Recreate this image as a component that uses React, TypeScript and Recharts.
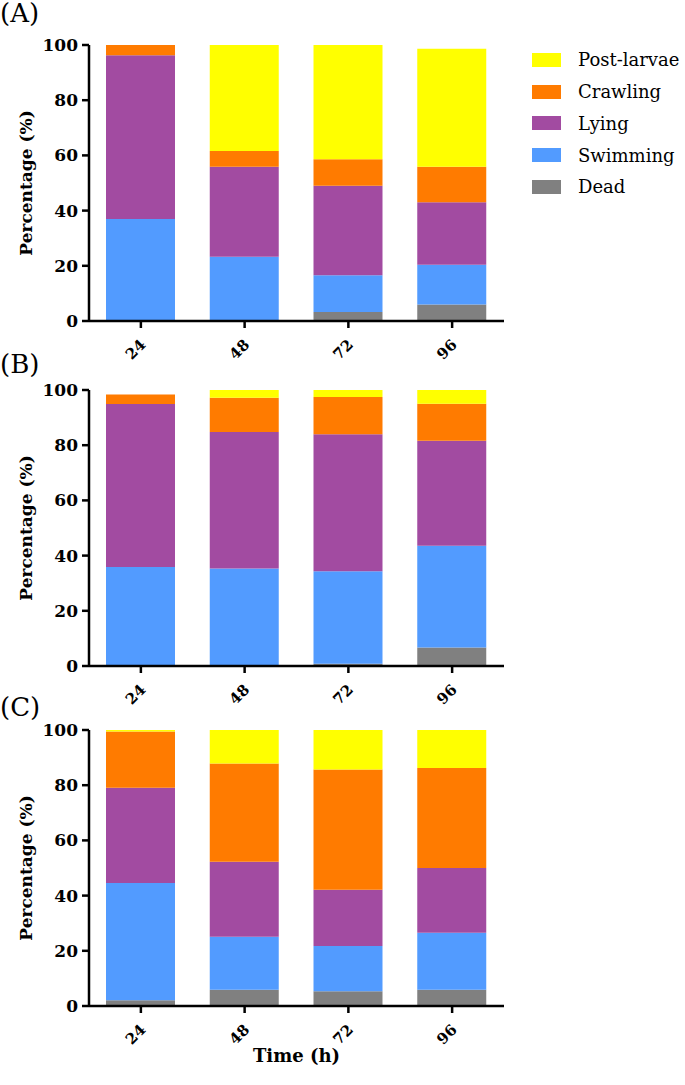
import React from "react";
import { BarChart, Bar, XAxis, YAxis } from "recharts";

// time points (h)
const hours = ["24", "48", "72", "96"];
const yTicks = [0, 20, 40, 60, 80, 100];

// Panel A
const deadA = [0, 0, 3.3, 6.0];
const swimA = [37, 23.3, 13.3, 14.4];
const lyingA = [59.3, 32.6, 32.4, 22.6];
const crawlA = [3.7, 5.7, 9.6, 12.9];
const postA = [0, 38.4, 41.4, 42.7];

// Panel B
const deadB = [0, 0, 0.8, 6.7];
const swimB = [35.9, 35.3, 33.5, 36.9];
const lyingB = [59, 49.5, 49.7, 38.0];
const crawlB = [3.5, 12.4, 13.5, 13.4];
const postB = [0, 2.8, 2.5, 5.0];

// Panel C
const deadC = [2.1, 5.9, 5.3, 5.9];
const swimC = [42.5, 19.2, 16.4, 20.6];
const lyingC = [34.5, 27.2, 20.4, 23.5];
const crawlC = [20.4, 35.6, 43.6, 36.2];
const postC = [0.5, 12.1, 14.3, 13.8];

const SERIES = [
  { key: "dead", name: "Dead", color: "#808080" },
  { key: "swim", name: "Swimming", color: "#529BFF" },
  { key: "lying", name: "Lying", color: "#A24BA1" },
  { key: "crawl", name: "Crawling", color: "#FF7B00" },
  { key: "post", name: "Post-larvae", color: "#FFFF00" },
];

const FONT = "DejaVu Serif";

const build = (
  dead: number[],
  swim: number[],
  lying: number[],
  crawl: number[],
  post: number[]
) =>
  hours.map((h, i) => ({
    hour: h,
    dead: dead[i],
    swim: swim[i],
    lying: lying[i],
    crawl: crawl[i],
    post: post[i],
  }));

const dataA = build(deadA, swimA, lyingA, crawlA, postA);
const dataB = build(deadB, swimB, lyingB, crawlB, postB);
const dataC = build(deadC, swimC, lyingC, crawlC, postC);

const XTick = ({ x, y, payload }: any) => (
  <g transform={`translate(${x + 2},${y + 14})`}>
    <text
      transform="rotate(-45)"
      textAnchor="end"
      dy="0.35em"
      style={{ fontFamily: FONT }}
      fontWeight="bold"
      fontSize={15}
      fill="#000"
    >
      {payload.value}
    </text>
  </g>
);

const LegendBox = () => (
  <div
    style={{
      position: "absolute",
      left: 532,
      top: 44,
      fontFamily: FONT,
      fontSize: 18,
      whiteSpace: "nowrap",
    }}
  >
    {[...SERIES].reverse().map((s) => (
      <div
        key={s.key}
        style={{ display: "flex", alignItems: "center", height: 31.75 }}
      >
        <div
          style={{ width: 29, height: 14, background: s.color, marginRight: 17 }}
        />
        <span>{s.name}</span>
      </div>
    ))}
  </div>
);

function Panel({
  data,
  top,
  label,
  labelTop,
  xTitle,
}: {
  data: any[];
  top: number;
  label: string;
  labelTop: number;
  xTitle?: boolean;
}) {
  const xh = xTitle ? 66 : 50;
  return (
    <>
      <div
        style={{
          position: "absolute",
          left: 0,
          top: labelTop,
          fontFamily: FONT,
          fontSize: 26,
          lineHeight: 1,
        }}
      >
        {label}
      </div>
      <div style={{ position: "absolute", left: 0, top }}>
        <BarChart
          width={685}
          height={45 + 276 + xh}
          data={data}
          margin={{ top: 45, right: 181, left: 0, bottom: 0 }}
        >
          <XAxis
            dataKey="hour"
            height={xh}
            interval={0}
            tick={<XTick />}
            tickSize={7}
            tickMargin={0}
            axisLine={{ stroke: "#000", strokeWidth: 2.5 }}
            tickLine={{ stroke: "#000", strokeWidth: 2.5 }}
            label={
              xTitle
                ? {
                    value: "Time (h)",
                    position: "insideBottom",
                    offset: 10,
                    style: { fontFamily: FONT },
                    fontWeight: "bold",
                    fontSize: 18,
                    fill: "#000",
                  }
                : undefined
            }
          />
          <YAxis
            width={89}
            domain={[0, 100]}
            ticks={yTicks}
            interval={0}
            tickSize={7}
            tickMargin={4}
            axisLine={{ stroke: "#000", strokeWidth: 2.5 }}
            tickLine={{ stroke: "#000", strokeWidth: 2.5 }}
            tick={{
              style: { fontFamily: FONT },
              fontWeight: "bold",
              fontSize: 17,
              fill: "#000",
            }}
            label={{
              value: "Percentage (%)",
              angle: -90,
              position: "center",
              dx: -19,
              style: { fontFamily: FONT },
              fontWeight: "bold",
              fontSize: 17,
              fill: "#000",
            }}
          />
          {SERIES.map((s) => (
            <Bar
              key={s.key}
              dataKey={s.key}
              name={s.name}
              stackId="a"
              fill={s.color}
              barSize={69}
              isAnimationActive={false}
            />
          ))}
        </BarChart>
      </div>
    </>
  );
}

export default function App() {
  return (
    <div
      style={{
        position: "absolute",
        left: 0,
        top: 0,
        width: 685,
        height: 1085,
        background: "#fff",
      }}
    >
      <Panel data={dataA} top={0} label="(A)" labelTop={0} />
      <Panel data={dataB} top={345} label="(B)" labelTop={351} />
      <Panel data={dataC} top={685} label="(C)" labelTop={694} xTitle />
      <LegendBox />
    </div>
  );
}
